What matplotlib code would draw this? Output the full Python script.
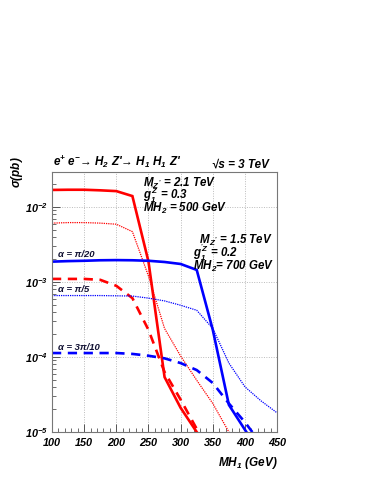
import numpy as np
import matplotlib
matplotlib.use("Agg")
import matplotlib.pyplot as plt
from matplotlib.ticker import FixedLocator, FixedFormatter, MultipleLocator, NullFormatter

plt.rcParams['font.family'] = ['Liberation Sans', 'DejaVu Sans']
plt.rcParams['mathtext.fontset'] = 'custom'
plt.rcParams['mathtext.rm'] = 'Liberation Sans:bold:italic'
plt.rcParams['mathtext.it'] = 'Liberation Sans:bold:italic'
plt.rcParams['mathtext.bf'] = 'Liberation Sans:bold:italic'
plt.rcParams['mathtext.sf'] = 'Liberation Sans:bold:italic'

nan = np.nan
mh1 = [100, 125, 150, 175, 200, 225, 250, 275, 300, 325, 350, 375, 400, 425, 450]

# MZ' = 2.1 TeV, g'1 = 0.3, MH2 = 500 GeV (red)
red_pi20 = [1.69e-2, 1.70e-2, 1.70e-2, 1.67e-2, 1.63e-2, 1.40e-2, 1.87e-3, 5.4e-5, 2.1e-5, 1.0e-5, 5e-6, nan, nan, nan, nan]
red_pi5 = [6.1e-3, 6.2e-3, 6.2e-3, 6.1e-3, 5.9e-3, 4.7e-3, 1.2e-3, 2.4e-4, 1.03e-4, 4.9e-5, 2.4e-5, 1.0e-5, 5e-6, nan, nan]
red_3pi10 = [1.1e-3, 1.1e-3, 1.1e-3, 1.07e-3, 8.9e-4, 6.1e-4, 2.3e-4, 6.3e-5, 2.7e-5, 1.1e-5, 5e-6, nan, nan, nan, nan]
# MZ' = 1.5 TeV, g'1 = 0.2, MH2 = 700 GeV (blue)
blue_pi20 = [1.87e-3, 1.9e-3, 1.92e-3, 1.95e-3, 1.96e-3, 1.95e-3, 1.92e-3, 1.85e-3, 1.74e-3, 1.45e-3, 2.3e-4, 2.3e-5, 1.07e-5, 5e-6, nan]
blue_pi5 = [6.6e-4, 6.6e-4, 6.6e-4, 6.6e-4, 6.55e-4, 6.5e-4, 6.1e-4, 5.6e-4, 4.9e-4, 4.2e-4, 2.4e-4, 8.3e-5, 4.0e-5, 2.6e-5, 1.8e-5]
blue_3pi10 = [1.13e-4, 1.13e-4, 1.13e-4, 1.13e-4, 1.13e-4, 1.1e-4, 1.04e-4, 9.6e-5, 8.3e-5, 6.7e-5, 4.5e-5, 2.4e-5, 1.35e-5, 7e-6, nan]

xticks = [100, 150, 200, 250, 300, 350, 400, 450]
yticks = [1e-5, 1e-4, 1e-3, 1e-2]
ytick_labels = [r"$10^{-5}$", r"$10^{-4}$", r"$10^{-3}$", r"$10^{-2}$"]

fig = plt.figure(figsize=(3.74, 4.84), dpi=100)
ax = fig.add_axes([0.139, 0.1074, 0.602, 0.5372])

RED = '#ff0000'
BLUE = '#0000ff'
ax.plot(mh1, red_pi20, color=RED, lw=1.9, solid_joinstyle='miter')
ax.plot(mh1, red_pi5, color=RED, lw=0.9, ls=(0, (1, 0.8)))
ax.plot(mh1, red_3pi10, color=RED, lw=1.9, ls=(0, (3.5, 2.5)))
ax.plot(mh1, blue_pi20, color=BLUE, lw=1.9, solid_joinstyle='miter')
ax.plot(mh1, blue_pi5, color=BLUE, lw=0.9, ls=(0, (1, 0.8)))
ax.plot(mh1, blue_3pi10, color=BLUE, lw=1.9, ls=(0, (3.5, 2.5)))

ax.set_yscale('log')
ax.set_xlim(100, 450)
ax.set_ylim(1e-5, 2.93e-2)

ax.xaxis.set_major_locator(FixedLocator(xticks))
ax.xaxis.set_minor_locator(MultipleLocator(10))
ax.yaxis.set_major_locator(FixedLocator(yticks))
ax.yaxis.set_major_formatter(FixedFormatter(ytick_labels))
ax.yaxis.set_minor_formatter(NullFormatter())

ax.grid(True, which='major', color='#bbbbbb', ls=(0, (1, 1.5)), lw=0.7)
ax.tick_params(which='both', direction='in', top=False, right=False, colors='#555555', labelcolor='black')
ax.tick_params(which='major', length=6, width=0.7)
ax.tick_params(which='minor', length=3, width=0.6)
ax.tick_params(axis='x', labelsize=7.8, pad=4)
ax.tick_params(axis='y', labelsize=7.8, pad=3)
for lab in ax.get_xticklabels():
    lab.set_fontweight('bold')
    lab.set_fontstyle('italic')
for s in ax.spines.values():
    s.set_color('#777777')
    s.set_linewidth(0.8)

bi = dict(fontweight='bold', fontstyle='italic')
fig.text(0.142, 0.648, r"e$^{+}$ e$^{-}$→ H$_{2}$ Z'→ H$_{1}$ H$_{1}$ Z'", fontsize=8.4, ha='left', va='bottom', **bi)
fig.text(0.568, 0.648, "√s = 3 TeV", fontsize=8.4, ha='left', va='bottom', **bi)

fs = 8.3
ax.text(0.404, 0.985, "M$_{Z'}$ = 2.1 TeV\ng$^{'Z}_{1}$ = 0.3\nMH$_{2}$ = 500 GeV",
        transform=ax.transAxes, fontsize=fs, ha='left', va='top', linespacing=0.6, **bi)
ax.text(0.627, 0.765, "  M$_{Z'}$ = 1.5 TeV\ng$^{'Z}_{1}$ = 0.2\nMH$_{2}$= 700 GeV",
        transform=ax.transAxes, fontsize=fs, ha='left', va='top', linespacing=0.64, **bi)

ax.text(0.027, 0.682, "α = π/20", transform=ax.transAxes, fontsize=6.8, ha='left', va='center', color='#111133', **bi)
ax.text(0.027, 0.548, "α = π/5", transform=ax.transAxes, fontsize=6.8, ha='left', va='center', color='#111133', **bi)
ax.text(0.027, 0.325, "α = 3π/10", transform=ax.transAxes, fontsize=6.8, ha='left', va='center', color='#111133', **bi)

fig.text(0.741, 0.043, r"MH$_{1}$ (GeV)", fontsize=8.5, ha='right', va='center', **bi)
fig.text(0.045, 0.676, r"$\sigma$(pb)", fontsize=8.5, ha='center', va='top', rotation=90, **bi)

fig.savefig("out.png", dpi=100)
